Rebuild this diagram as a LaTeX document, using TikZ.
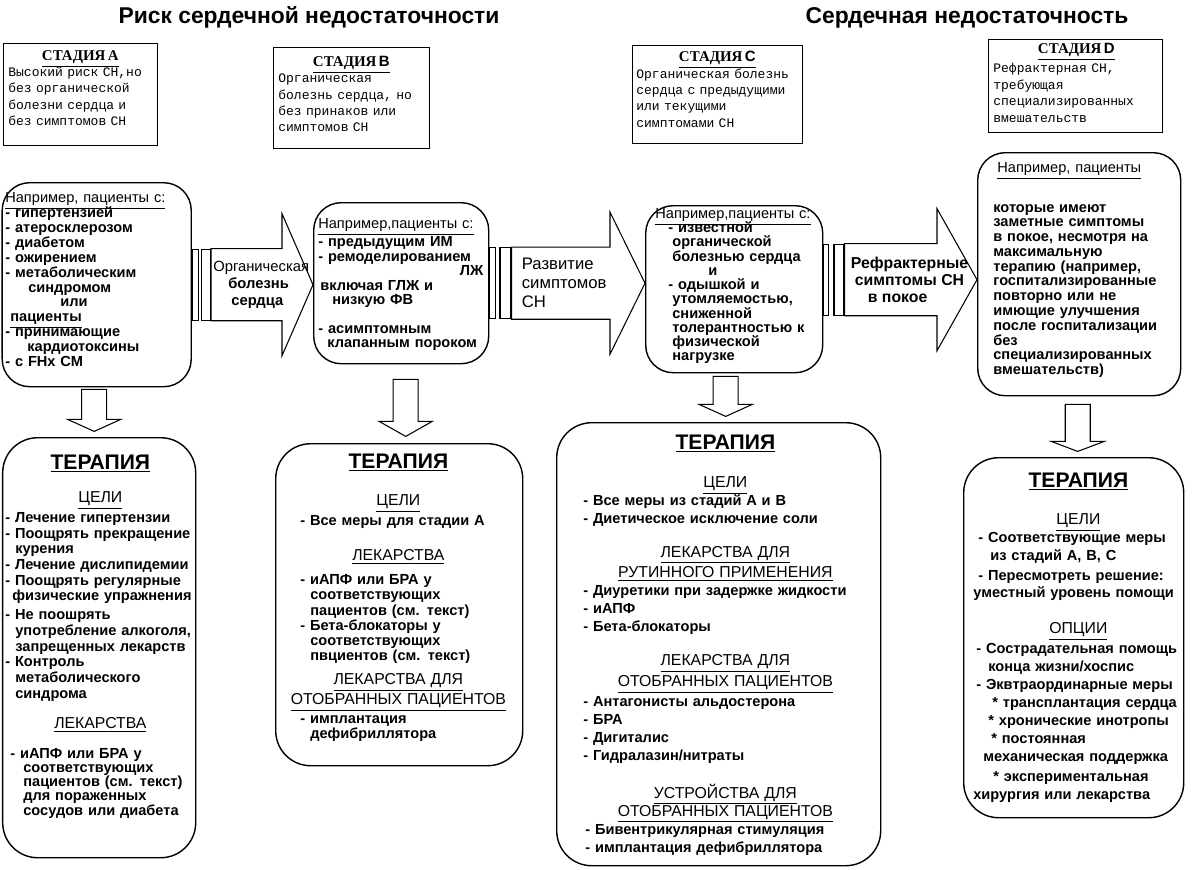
\documentclass[tikz,border=0pt]{standalone}
\usepackage{fontspec}
\setmainfont{Liberation Sans}
\newfontfamily\stagemono{Liberation Mono}
\newfontfamily\stageserif{Liberation Serif}
\usetikzlibrary{positioning, calc}
\setlength{\parindent}{0pt}

\newcommand\thtitle[1]{\makebox[\hsize]{\fontsize{12}{14}\selectfont\bfseries\underline{#1}}}
\newcommand\sechead[1]{\makebox[\hsize]{\fontsize{9}{11}\selectfont\mdseries\underline{#1}}}
\newcommand\stagetitle[1]{\makebox[\hsize]{\stageserif\bfseries\fontsize{8.5}{10}\selectfont\underline{СТАДИЯ\,#1}}}

\tikzset{
    heading/.style={font=\fontsize{13}{15}\selectfont\bfseries, inner sep=0pt},
    stagebox/.style={rectangle, draw, line width=0.8pt, anchor=north west, inner sep=0pt},
    stagetext/.style={inner sep=0pt, align=left,
                      font={\stagemono\fontsize{7.4}{9.3}\selectfont\lineskiplimit=-10pt}},
    examplebox/.style={rectangle, rounded corners=0.55cm, draw, line width=0.8pt,
                       anchor=north west, inner sep=0pt},
    therapybox/.style={rectangle, rounded corners=0.7cm, draw, line width=0.8pt,
                       anchor=north west, inner sep=0pt},
    boxtext/.style={inner sep=0pt, align=left,
                    font={\fontsize{8.3}{#1}\selectfont\bfseries\lineskiplimit=-10pt}},
    gapbar/.style={rectangle, draw, fill=white, line width=0.6pt, minimum height=1.42cm, inner sep=0pt},
    blockarr/.style={draw, fill=white, line width=0.6pt, line join=miter},
    downarr/.style={draw, fill=white, line width=0.6pt, line join=miter},
    arrlbl/.style={inner sep=0pt, align=left},
}

\begin{document}
\begin{tikzpicture}

    \useasboundingbox (0,0) rectangle (24,-17.38);

    % titles
    \node[heading] (titleRisk) at (6.18,-0.34) {Риск сердечной недостаточности};
    \node[heading] (titleHF) at (19.34,-0.36) {Сердечная недостаточность};

    % stage boxes
    \node[stagebox, minimum width=3.08cm, minimum height=2.04cm] (stA) at (0.06,-0.86) {};
    \node[stagetext, text width=2.88cm, below right=0.14cm and 0.1cm of stA.north west] (stAtxt)
        {\stagetitle{A}\\ Высокий риск СН,но\\ без органической\\ болезни сердца и\\ без симптомов СН};

    \node[stagebox, minimum width=3.12cm, minimum height=2.02cm] (stB) at (5.46,-0.94) {};
    \node[stagetext, text width=2.92cm, below right=0.18cm and 0.1cm of stB.north west] (stBtxt)
        {\stagetitle{{\rmfamily B}}\\ Органическая\\ болезнь сердца, но\\ без принаков или\\ симптомов СН};

    \node[stagebox, minimum width=3.40cm, minimum height=1.96cm] (stC) at (12.64,-0.90) {};
    \node[stagetext, text width=3.24cm, below right=0.12cm and 0.08cm of stC.north west] (stCtxt)
        {\stagetitle{{\rmfamily C}}\\ Органическая болезнь\\ сердца с предыдущими\\ или текущими\\ симптомами СН};

    \node[stagebox, minimum width=3.48cm, minimum height=1.86cm] (stD) at (19.76,-0.78) {};
    \node[stagetext, text width=3.32cm, below right=0.08cm and 0.1cm of stD.north west] (stDtxt)
        {\stagetitle{{\rmfamily D}}\\[0.06cm] Рефрактерная СН,\\ требующая\\ специализированных\\ вмешательств};

    % example boxes
    \node[examplebox, minimum width=3.78cm, minimum height=4.08cm] (exA) at (0.03,-3.64) {};
    \node[boxtext=8.5pt, text width=3.6cm, below right=0.2cm and 0.07cm of exA.north west] (exAtxt)
        {{\mdseries\underline{Например, пациенты с:}}\\
         - гипертензией\\
         - атеросклерозом\\
         - диабетом\\
         - ожирением\\
         - метаболическим\\
         \hspace*{0.46cm}синдромом\\
         \hspace*{1.1cm}или\\
         \hspace*{0.1cm}\underline{пациенты}\\
         - принимающие\\
         \hspace*{0.44cm}кардиотоксины\\
         - с FHx CM};

    \node[examplebox, minimum width=3.50cm, minimum height=3.22cm] (exB) at (6.26,-4.04) {};
    \node[boxtext=8.2pt, text width=3.3cm, below right=0.32cm and 0.1cm of exB.north west] (exBtxt)
        {{\mdseries\underline{Например,пациенты с:}}\\[0.08cm]
         - предыдущим ИМ\\
         - ремоделированием\\
         \mbox{}\hfill ЛЖ\\
         \hspace*{0.04cm}включая ГЛЖ и\\
         \hspace*{0.28cm}низкую ФВ\\
         \mbox{}\\
         - асимптомным\\
         \hspace*{0.18cm}клапанным пороком};

    \node[examplebox, minimum width=3.54cm, minimum height=3.34cm] (exC) at (12.90,-4.10) {};
    \node[boxtext=8.1pt, text width=3.3cm, below right=0.06cm and 0.2cm of exC.north west] (exCtxt)
        {{\mdseries\underline{Например,пациенты с:}}\\
         \hspace*{0.26cm}- известной\\
         \hspace*{0.34cm}органической\\
         \hspace*{0.34cm}болезнью сердца\\
         \hspace*{1.06cm}и\\
         \hspace*{0.26cm}- одышкой и\\
         \hspace*{0.34cm}утомляемостью,\\
         \hspace*{0.34cm}сниженной\\
         \hspace*{0.34cm}толерантностью к\\
         \hspace*{0.34cm}физической\\
         \hspace*{0.34cm}нагрузке};

    \node[examplebox, minimum width=4.06cm, minimum height=4.86cm] (exD) at (19.54,-3.04) {};
    \node[boxtext=8.4pt, text width=3.6cm, below right=0.2cm and 0.32cm of exD.north west] (exDtxt)
        {\hspace*{0.08cm}{\mdseries\underline{Например, пациенты}}\\[0.5cm]
         которые имеют\\
         заметные симптомы\\
         в покое, несмотря на\\
         максимальную\\
         терапию (например,\\
         госпитализированные\\
         повторно или не\\
         имющие улучшения\\
         после госпитализации\\
         без\\
         специализированных\\
         вмешательств)};

    % double bars and block arrows between the example boxes
    \node[gapbar, minimum width=0.12cm, right=0pt of exA] (barA1) {};
    \node[gapbar, minimum width=0.18cm, right=0.04cm of barA1] (barA2) {};
    \draw[blockarr] (barA2.north east) -- ($(exB.west |- barA2.north)+(-0.62,0)$) -- ++(0,0.70)
        -- (exB.west |- barA2.east) -- ($(exB.west |- barA2.south)+(-0.62,-0.70)$) -- ++(0,0.70)
        -- (barA2.south east) -- cycle;
    \node[arrlbl, font=\fontsize{8.4}{9.6}\selectfont\bfseries, right=0.04cm of barA2] (lblA)
        {{\mdseries Органическая}\\ \hspace*{0.3cm}болезнь\\ \hspace*{0.36cm}сердца};

    \node[gapbar, minimum width=0.12cm, right=0pt of exB] (barB1) {};
    \node[gapbar, minimum width=0.22cm, right=0.06cm of barB1] (barB2) {};
    \draw[blockarr] (barB2.north east) -- ($(exC.west |- barB2.north)+(-0.70,0)$) -- ++(0,0.70)
        -- (exC.west |- barB2.east) -- ($(exC.west |- barB2.south)+(-0.70,-0.70)$) -- ++(0,0.70)
        -- (barB2.south east) -- cycle;
    \node[arrlbl, font=\fontsize{9.5}{10.8}\selectfont, right=0.2cm of barB2] (lblB)
        {Развитие\\ симптомов\\ СН};

    \node[gapbar, minimum width=0.10cm, anchor=west] (barC1) at ([yshift=0.19cm]exC.east) {};
    \node[gapbar, minimum width=0.20cm, right=0.08cm of barC1] (barC2) {};
    \draw[blockarr] (barC2.north east) -- ($(exD.west |- barC2.north)+(-0.80,0)$) -- ++(0,0.70)
        -- (exD.west |- barC2.east) -- ($(exD.west |- barC2.south)+(-0.80,-0.70)$) -- ++(0,0.70)
        -- (barC2.south east) -- cycle;
    \node[arrlbl, font=\fontsize{9}{9.6}\selectfont\bfseries, right=0.12cm of barC2] (lblC)
        {Рефрактерные\\ \hspace*{0.08cm}симптомы СН\\ \hspace*{0.34cm}в покое};

    % arrows down to the therapy boxes
    \draw[downarr] ([xshift=-0.30cm,yshift=-0.04cm]exA.south) coordinate (dnA)
        -- ++(0,-0.60) -- ++(-0.28,0) -- ++(0.53,-0.24) -- ++(0.53,0.24) -- ++(-0.28,0)
        -- ++(0,0.60) -- cycle;
    \draw[downarr] ([xshift=-0.16cm,yshift=-0.30cm]exB.south) coordinate (dnB)
        -- ++(0,-0.84) -- ++(-0.28,0) -- ++(0.53,-0.30) -- ++(0.53,0.30) -- ++(-0.28,0)
        -- ++(0,0.84) -- cycle;
    \draw[downarr] ([xshift=-0.42cm,yshift=-0.06cm]exC.south) coordinate (dnC)
        -- ++(0,-0.56) -- ++(-0.28,0) -- ++(0.53,-0.24) -- ++(0.53,0.24) -- ++(-0.28,0)
        -- ++(0,0.56) -- cycle;
    \draw[downarr] ([xshift=-0.28cm,yshift=-0.16cm]exD.south) coordinate (dnD)
        -- ++(0,-0.74) -- ++(-0.28,0) -- ++(0.53,-0.20) -- ++(0.53,0.20) -- ++(-0.28,0)
        -- ++(0,0.74) -- cycle;

    % therapy boxes
    \node[therapybox, minimum width=3.86cm, minimum height=8.40cm] (thA) at (0.04,-8.74) {};
    \node[boxtext=8.9pt, text width=3.8cm, below right=0.35cm and 0.06cm of thA.north west] (thAtxt)
        {\thtitle{ТЕРАПИЯ}\\[0.35cm]
         \sechead{ЦЕЛИ}\\[0.09cm]
         - Лечение гипертензии\\
         - Поощрять прекращение\\
         \hspace*{0.2cm}курения\\
         - Лечение дислипидемии\\
         - Поощрять регулярные\\
         \hspace*{0.14cm}физические упражнения\\[0.07cm]
         - Не поошрять\\
         \hspace*{0.2cm}употребление алкоголя,\\
         \hspace*{0.2cm}запрещенных лекарств\\
         - Контроль\\
         \hspace*{0.2cm}метаболического\\
         \hspace*{0.2cm}синдрома\\[0.29cm]
         \sechead{ЛЕКАРСТВА}\\[0.29cm]
         \hspace*{0.1cm}- иАПФ или БРА у\\[-0.03cm]
         \hspace*{0.36cm}соответствующих\\[-0.03cm]
         \hspace*{0.36cm}пациентов (см. текст)\\[-0.03cm]
         \hspace*{0.36cm}для пораженных\\[-0.03cm]
         \hspace*{0.36cm}сосудов или диабета};

    \node[therapybox, minimum width=4.94cm, minimum height=6.44cm] (thB) at (5.50,-8.86) {};
    \node[boxtext=8.6pt, text width=4.0cm, below right=0.21cm and 0.46cm of thB.north west] (thBtxt)
        {\thtitle{ТЕРАПИЯ}\\[0.44cm]
         \sechead{ЦЕЛИ}\\[0.1cm]
         \hspace*{0.04cm}- Все меры для стадии А\\[0.4cm]
         \sechead{ЛЕКАРСТВА}\\[0.18cm]
         \hspace*{0.04cm}- иАПФ или БРА у\\
         \hspace*{0.24cm}соответствующих\\
         \hspace*{0.24cm}пациентов (см. текст)\\
         \hspace*{0.04cm}- Бета-блокаторы у\\
         \hspace*{0.24cm}соответствующих\\
         \hspace*{0.24cm}пвциентов (см. текст)\\[0.18cm]
         \sechead{ЛЕКАРСТВА ДЛЯ}\\[0.1cm]
         \sechead{ОТОБРАННЫХ ПАЦИЕНТОВ}\\[0.08cm]
         \hspace*{0.04cm}- имплантация\\
         \hspace*{0.24cm}дефибриллятора};

    \node[therapybox, minimum width=6.48cm, minimum height=8.86cm] (thC) at (11.12,-8.44) {};
    \node[boxtext=10.2pt, text width=5.68cm, below right=0.25cm and 0.54cm of thC.north west] (thCtxt)
        {\thtitle{ТЕРАПИЯ}\\[0.4cm]
         \sechead{ЦЕЛИ}\\
         - Все меры из стадий А и В\\
         - Диетическое исключение соли\\[0.32cm]
         \sechead{ЛЕКАРСТВА ДЛЯ}\\[0.06cm]
         \sechead{РУТИННОГО ПРИМЕНЕНИЯ}\\
         - Диуретики при задержке жидкости\\
         - иАПФ\\
         - Бета-блокаторы\\[0.32cm]
         \sechead{ЛЕКАРСТВА ДЛЯ}\\[0.06cm]
         \sechead{ОТОБРАННЫХ ПАЦИЕНТОВ}\\[0.04cm]
         - Антагонисты альдостерона\\
         - БРА\\
         - Дигиталис\\
         - Гидралазин/нитраты\\[0.4cm]
         \sechead{УСТРОЙСТВА ДЛЯ}\\
         \sechead{ОТОБРАННЫХ ПАЦИЕНТОВ}\\
         \hspace*{0.04cm}- Бивентрикулярная стимуляция\\
         \hspace*{0.04cm}- имплантация дефибриллятора};

    \node[therapybox, minimum width=4.40cm, minimum height=7.20cm] (thD) at (19.26,-9.14) {};
    \node[boxtext=10.2pt, text width=4.2cm, below right=0.31cm and 0.2cm of thD.north west] (thDtxt)
        {\thtitle{ТЕРАПИЯ}\\[0.38cm]
         \sechead{ЦЕЛИ}\\
         \hspace*{0.1cm}- Соответствующие меры\\
         \hspace*{0.34cm}из стадий А, В, С\\[0.04cm]
         \hspace*{0.1cm}- Пересмотреть решение:\\
         уместный уровень помощи\\[0.36cm]
         \sechead{ОПЦИИ}\\[0.04cm]
         \hspace*{0.06cm}- Сострадательная помощь\\
         \hspace*{0.3cm}конца жизни/хоспис\\
         \hspace*{0.06cm}- Эквтраординарные меры\\
         \hspace*{0.38cm}* трансплантация сердца\\
         \hspace*{0.3cm}* хронические инотропы\\
         \hspace*{0.36cm}* постоянная\\
         \hspace*{0.2cm}механическая поддержка\\[0.04cm]
         \hspace*{0.4cm}* экспериментальная\\
         хирургия или лекарства};

\end{tikzpicture}
\end{document}
